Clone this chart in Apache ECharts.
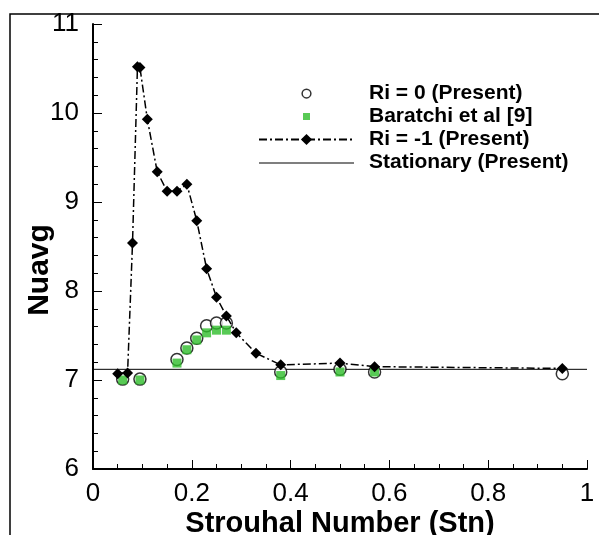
<!DOCTYPE html>
<html>
<head>
<meta charset="utf-8">
<script src="https://cdn.jsdelivr.net/npm/echarts@6/dist/echarts.min.js"></script>
<style>
  html, body { margin: 0; padding: 0; background: #fff; }
  #chart { width: 599px; height: 535px; }
</style>
</head>
<body>
<div id="chart"></div>
<script>
// Ri = 0 (Present): open circles
var stRi0 = [0.06, 0.095, 0.17, 0.19, 0.21, 0.23, 0.25, 0.27, 0.38, 0.5, 0.57, 0.95];
var nuRi0 = [7.01, 7.01, 7.23, 7.36, 7.47, 7.61, 7.64, 7.64, 7.09, 7.12, 7.09, 7.07];

// Baratchi et al [9]: green squares
var stBar = [0.06, 0.095, 0.17, 0.19, 0.21, 0.23, 0.25, 0.27, 0.38, 0.5, 0.57];
var nuBar = [7.0, 7.0, 7.19, 7.34, 7.45, 7.53, 7.56, 7.56, 7.05, 7.09, 7.09];

// Ri = -1 (Present): dash-dot line with diamonds
var stRiM1 = [0.05, 0.07, 0.08, 0.09, 0.095, 0.11, 0.13, 0.15, 0.17, 0.19, 0.21, 0.23, 0.25, 0.27, 0.29, 0.33, 0.38, 0.5, 0.57, 0.95];
var nuRiM1 = [7.07, 7.08, 8.54, 10.52, 10.51, 9.93, 9.34, 9.12, 9.12, 9.2, 8.79, 8.25, 7.93, 7.72, 7.53, 7.3, 7.17, 7.19, 7.15, 7.13];

// Stationary (Present)
var stStat = [0, 1];
var nuStat = [7.12, 7.12];

var seriesNames = ['Ri = 0 (Present)', 'Baratchi et al [9]', 'Ri = -1 (Present)', 'Stationary (Present)'];

function pairs(xs, ys) {
    var out = [];
    for (var i = 0; i < xs.length; i++) out.push([xs[i], ys[i]]);
    return out;
}

var font = 'Liberation Sans, Arial, sans-serif';

// small legend icons: the extra moveTo points pad the box so the mark stays small
var smallCircle = 'path://M-3,-3M13,13M10,5A5,5,0,1,1,0,5A5,5,0,1,1,10,5Z';
var smallSquare = 'path://M-4,-4M12,12M0,0L8,0L8,8L0,8Z';
var thinLine = 'path://M0,-7M0,7M0,0L95,0L95,1L0,1Z';

var chart = echarts.init(document.getElementById('chart'), null, {renderer: 'canvas'});
var option = {
    animation: false,
    backgroundColor: '#fff',
    grid: {left: 93, right: 12, top: 24, bottom: 66, outerBoundsMode: 'none', containLabel: false},
    xAxis: {
        type: 'value',
        min: 0,
        max: 1,
        interval: 0.2,
        name: 'Strouhal Number (Stn)',
        nameLocation: 'middle',
        nameGap: 40,
        nameMoveOverlap: false,
        nameTextStyle: {fontFamily: font, fontSize: 29, fontWeight: 'bold', color: '#000'},
        axisLine: {lineStyle: {color: '#000', width: 2}},
        axisTick: {inside: true, length: 9, lineStyle: {color: '#000', width: 1}},
        minorTick: {show: true, splitNumber: 4, length: 5, lineStyle: {color: '#000', width: 1}},
        axisLabel: {fontFamily: font, fontSize: 26, color: '#000', margin: 12},
        splitLine: {show: false}
    },
    yAxis: {
        type: 'value',
        min: 6,
        max: 11,
        interval: 1,
        axisLine: {show: true, lineStyle: {color: '#000', width: 2}},
        axisTick: {show: true, inside: true, length: 9, lineStyle: {color: '#000', width: 1}},
        minorTick: {show: true, splitNumber: 5, length: 5, lineStyle: {color: '#000', width: 1}},
        axisLabel: {fontFamily: font, fontSize: 26, color: '#000', margin: 14},
        splitLine: {show: false}
    },
    legend: {
        orient: 'vertical',
        left: 258,
        top: 83,
        padding: 0,
        itemWidth: 95,
        itemHeight: 14,
        itemGap: 2,
        data: [
            {name: seriesNames[0], icon: smallCircle, itemStyle: {color: '#fff', borderColor: '#000', borderWidth: 1.5}},
            {name: seriesNames[1], icon: smallSquare},
            {name: seriesNames[2]},
            {name: seriesNames[3], icon: thinLine}
        ],
        textStyle: {fontFamily: font, fontSize: 21, fontWeight: 'bold', color: '#000', lineHeight: 20, padding: [0, 0, 0, 10]}
    },
    graphic: [
        {
            type: 'rect',
            shape: {x: 10, y: 14, width: 600, height: 540},
            style: {fill: 'none', stroke: '#000', lineWidth: 1.5},
            silent: true
        },
        {
            type: 'text',
            x: 40,
            y: 270,
            rotation: Math.PI / 2,
            style: {
                text: 'Nuavg',
                fontFamily: font,
                fontSize: 30,
                fontWeight: 'bold',
                fill: '#000',
                align: 'center',
                verticalAlign: 'middle'
            }
        }
    ],
    series: [
        {
            name: seriesNames[0],
            type: 'scatter',
            data: pairs(stRi0, nuRi0),
            symbol: 'circle',
            symbolSize: 12,
            itemStyle: {color: '#fff', borderColor: '#000', borderWidth: 1.5},
            z: 2
        },
        {
            name: seriesNames[1],
            type: 'scatter',
            data: pairs(stBar, nuBar),
            symbol: 'rect',
            symbolSize: 9,
            itemStyle: {color: '#2ebd2a'},
            z: 3
        },
        {
            name: seriesNames[2],
            type: 'line',
            data: pairs(stRiM1, nuRiM1),
            symbol: 'diamond',
            symbolSize: 11,
            showSymbol: true,
            itemStyle: {color: '#000'},
            lineStyle: {color: '#000', width: 1.5, type: [8, 3, 2, 3]},
            z: 4
        },
        {
            name: seriesNames[3],
            type: 'line',
            data: pairs(stStat, nuStat),
            symbol: 'none',
            itemStyle: {color: '#000'},
            lineStyle: {color: '#000', width: 1},
            z: 1
        }
    ]
};
chart.setOption(option);
</script>
</body>
</html>
